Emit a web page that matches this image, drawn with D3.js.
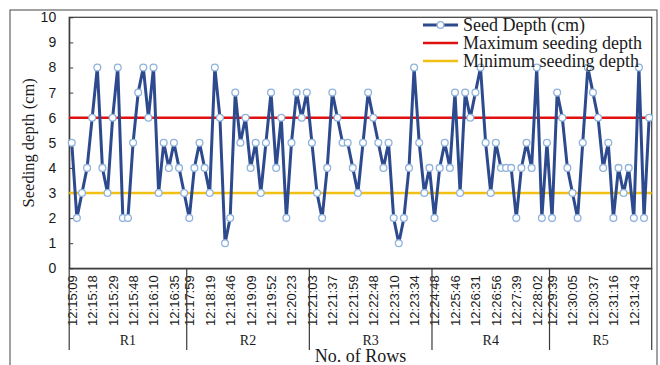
<!DOCTYPE html>
<html>
<head>
<meta charset="utf-8">
<script src="https://cdn.jsdelivr.net/npm/d3@7"></script>
<style>
  body { margin: 0; background: #fff; }
  svg { display: block; font-family: "Liberation Serif", "Times New Roman", serif; }
</style>
</head>
<body>
<div id="chart"></div>
<script>
// datos
var rowGroups = ["R1", "R2", "R3", "R4", "R5"];
var groupSizes = [23, 24, 24, 23, 20];
var timeLabels = [
  ["12:15:09", "12:15:18", "12:15:29", "12:15:48", "12:16:10", "12:16:35"],
  ["12:17:59", "12:18:19", "12:18:46", "12:19:09", "12:19:52", "12:20:23"],
  ["12:21:03", "12:21:37", "12:21:59", "12:22:48", "12:23:10", "12:23:34"],
  ["12:24:48", "12:25:46", "12:26:31", "12:26:56", "12:27:39", "12:28:02"],
  ["12:29:39", "12:30:05", "12:30:37", "12:31:16", "12:31:43"]
];
var labelEvery = 4;
var seedDepth = [
  5, 2, 3, 4, 6, 8, 4, 3, 6, 8, 2, 2, 5, 7, 8, 6, 8, 3, 5, 4, 5, 4, 3,
  2, 4, 5, 4, 3, 8, 6, 1, 2, 7, 5, 6, 4, 5, 3, 5, 7, 4, 6, 2, 5, 7, 6, 7,
  5, 3, 2, 4, 7, 6, 5, 5, 4, 3, 5, 7, 6, 5, 4, 5, 2, 1, 2, 4, 8, 5, 3, 4,
  2, 4, 5, 4, 7, 3, 7, 6, 7, 8, 5, 3, 5, 4, 4, 4, 2, 4, 5, 4, 8, 2, 5,
  2, 7, 6, 4, 3, 2, 5, 8, 7, 6, 4, 5, 2, 4, 3, 4, 2, 8, 2, 6
];
var maxDepth = 6;
var minDepth = 3;
var yTicks = [0, 1, 2, 3, 4, 5, 6, 7, 8, 9, 10];

var width = 660, height = 365;
var plotL = 69.2, plotR = 651.7, plotT = 17.3, plotB = 268.3;
var textColor = "#1a1a1a", axisColor = "#3a3a3a";

var svg = d3.select("#chart").append("svg")
  .attr("width", width)
  .attr("height", height);

// marco exterior
svg.append("rect")
  .attr("x", 10).attr("y", 10)
  .attr("width", 647).attr("height", 400)
  .attr("fill", "none")
  .attr("stroke", "#444")
  .attr("stroke-width", 1);

// escalas
var x = d3.scaleBand()
  .domain(d3.range(seedDepth.length))
  .range([plotL, plotR]);

var y = d3.scaleLinear()
  .domain([0, 10])
  .range([plotB, plotT]);

var bw = x.bandwidth();

// inicio de cada grupo
var groupStart = [];
var acc = 0;
groupSizes.forEach(function(n) { groupStart.push(acc); acc += n; });

// indices con etiqueta
var tickIdx = [], tickText = {};
timeLabels.forEach(function(labels, g) {
  labels.forEach(function(t, j) {
    var idx = groupStart[g] + j * labelEvery;
    tickIdx.push(idx);
    tickText[idx] = t;
  });
});

// area del grafico
svg.append("rect")
  .attr("x", plotL).attr("y", plotT)
  .attr("width", plotR - plotL).attr("height", plotB - plotT)
  .attr("fill", "none")
  .attr("stroke", axisColor)
  .attr("stroke-width", 1.2);

// eje Y
var yAxis = svg.append("g")
  .attr("transform", "translate(" + plotL + ",0)")
  .call(d3.axisLeft(y).tickValues(yTicks).tickSizeInner(-4).tickSizeOuter(0).tickPadding(13));
yAxis.select(".domain").attr("stroke", axisColor).attr("stroke-width", 1.2);
yAxis.selectAll(".tick line").attr("stroke", axisColor);
yAxis.selectAll("text")
  .attr("fill", textColor)
  .style("font-size", "14px");

// eje X
var xAxis = svg.append("g")
  .attr("transform", "translate(0," + plotB + ")")
  .call(d3.axisBottom(x).tickValues(tickIdx).tickFormat(function(d) { return tickText[d]; })
    .tickSize(0).tickPadding(0));
xAxis.select(".domain").attr("stroke", axisColor).attr("stroke-width", 1.2);
xAxis.selectAll("text")
  .attr("transform", "rotate(-90)")
  .attr("text-anchor", "end")
  .attr("x", -7)
  .attr("y", 0)
  .attr("dy", "0.38em")
  .attr("fill", textColor)
  .style("font-size", "13px");

// divisiones de grupos
var dividers = groupStart.map(function(s) { return x(s); }).concat([plotR]);
svg.selectAll(".divider")
  .data(dividers)
  .enter().append("line")
  .attr("class", "divider")
  .attr("x1", function(d) { return d; })
  .attr("x2", function(d) { return d; })
  .attr("y1", plotB)
  .attr("y2", 350)
  .attr("stroke", axisColor)
  .attr("stroke-width", 1.2);

// etiquetas de grupo
svg.selectAll(".group-label")
  .data(rowGroups)
  .enter().append("text")
  .attr("class", "group-label")
  .attr("x", function(d, i) { return (x(groupStart[i]) + x(groupStart[i] + groupSizes[i] - 1) + bw) / 2; })
  .attr("y", 345)
  .attr("text-anchor", "middle")
  .attr("fill", textColor)
  .style("font-size", "14px")
  .text(function(d) { return d; });

// lineas de referencia
svg.append("line")
  .attr("x1", plotL).attr("x2", plotR)
  .attr("y1", y(maxDepth)).attr("y2", y(maxDepth))
  .attr("stroke", "#e01010").attr("stroke-width", 2.6);

svg.append("line")
  .attr("x1", plotL).attr("x2", plotR)
  .attr("y1", y(minDepth)).attr("y2", y(minDepth))
  .attr("stroke", "#f2c012").attr("stroke-width", 2.6);

// serie
var line = d3.line()
  .x(function(d, i) { return x(i) + bw / 2; })
  .y(function(d) { return y(d); });

svg.append("path")
  .datum(seedDepth)
  .attr("d", line)
  .attr("fill", "none")
  .attr("stroke", "#2e4a8e")
  .attr("stroke-width", 3)
  .attr("stroke-linejoin", "round");

svg.selectAll(".pt")
  .data(seedDepth)
  .enter().append("circle")
  .attr("class", "pt")
  .attr("cx", function(d, i) { return x(i) + bw / 2; })
  .attr("cy", function(d) { return y(d); })
  .attr("r", 3.4)
  .attr("fill", "#fff")
  .attr("stroke", "#8fb3dc")
  .attr("stroke-width", 1.3);

// leyenda
var legendItems = [
  { name: "Seed Depth (cm)", color: "#2e4a8e", marker: true },
  { name: "Maximum seeding depth", color: "#e01010", marker: false },
  { name: "Minimum seeding depth", color: "#f2c012", marker: false }
];
var legend = svg.append("g").attr("transform", "translate(423,25)");
legendItems.forEach(function(item, i) {
  var g = legend.append("g").attr("transform", "translate(0," + (i * 18) + ")");
  g.append("line")
    .attr("x1", 0).attr("x2", 35)
    .attr("stroke", item.color)
    .attr("stroke-width", item.marker ? 3 : 2.6);
  if (item.marker) {
    g.append("circle")
      .attr("cx", 17.5).attr("r", 3.4)
      .attr("fill", "#fff")
      .attr("stroke", "#8fb3dc")
      .attr("stroke-width", 1.3);
  }
  g.append("text")
    .attr("x", 40)
    .attr("dy", "0.32em")
    .attr("fill", textColor)
    .style("font-size", "18px")
    .text(item.name);
});

// titulos de ejes
svg.append("text")
  .attr("transform", "translate(28," + ((plotT + plotB) / 2) + ") rotate(-90)")
  .attr("text-anchor", "middle")
  .attr("dy", "0.35em")
  .attr("fill", textColor)
  .style("font-size", "16.5px")
  .text("Seeding depth (cm)");

svg.append("text")
  .attr("x", (plotL + plotR) / 2)
  .attr("y", 362)
  .attr("text-anchor", "middle")
  .attr("fill", textColor)
  .style("font-size", "18px")
  .text("No. of Rows");
</script>
</body>
</html>
